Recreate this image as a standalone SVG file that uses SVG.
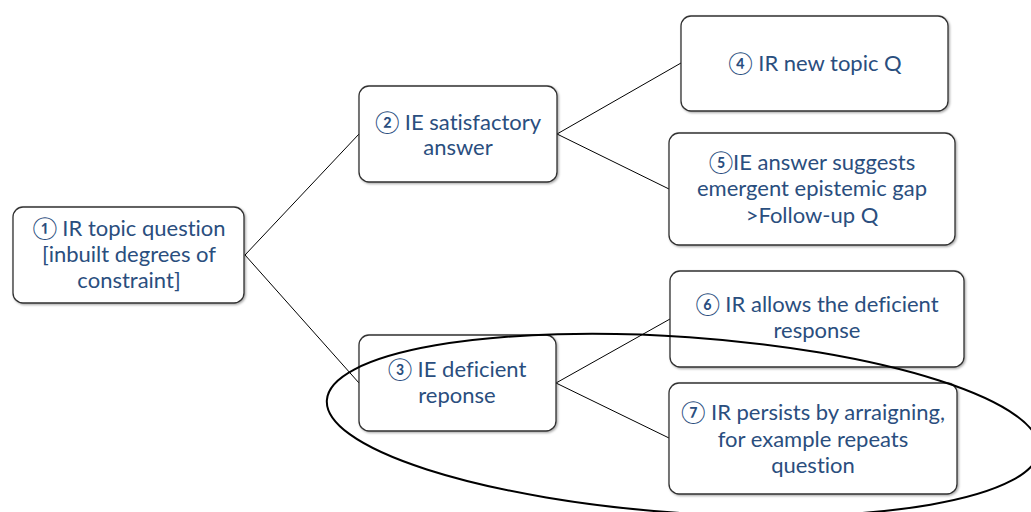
<svg xmlns="http://www.w3.org/2000/svg" width="1031" height="512" viewBox="0 0 1031 512">
<style>
.box{fill:#ffffff;stroke:#303030;stroke-width:1.3}
.lbl{font-family:Lato,"Noto Sans","DejaVu Sans",sans-serif;font-size:22px;fill:#2a4e7e;text-anchor:middle;font-variant-ligatures:none}
.conn{stroke:#000;stroke-width:1;fill:none}
.ring{stroke:#000;stroke-width:2;fill:none}
</style>
<defs>
<filter id="sh" x="-5%" y="-5%" width="110%" height="115%">
<feDropShadow dx="1.2" dy="1.2" stdDeviation="0.8" flood-color="#000" flood-opacity="0.35"/>
</filter>
</defs>
<rect width="1031" height="512" fill="#ffffff"/>
<g id="connectors">
<line class="conn" x1="245" y1="255" x2="359" y2="134"/>
<line class="conn" x1="245" y1="255" x2="359" y2="383"/>
<line class="conn" x1="557" y1="134" x2="681" y2="63"/>
<line class="conn" x1="557" y1="134" x2="669" y2="189"/>
<line class="conn" x1="556" y1="383" x2="670" y2="319"/>
<line class="conn" x1="556" y1="383" x2="669" y2="438"/>
</g>
<g id="n1">
<rect class="box" filter="url(#sh)" x="13" y="207" width="231" height="96" rx="10"/>
<text class="lbl" x="129" y="236">① IR topic question</text>
<text class="lbl" x="129" y="262">[inbuilt degrees of</text>
<text class="lbl" x="129" y="288">constraint]</text>
</g>
<g id="n2">
<rect class="box" filter="url(#sh)" x="359" y="86" width="198" height="96" rx="10"/>
<text class="lbl" x="458" y="130">② IE satisfactory</text>
<text class="lbl" x="458" y="155">answer</text>
</g>
<g id="n3">
<rect class="box" filter="url(#sh)" x="359" y="335" width="197" height="96" rx="10"/>
<text class="lbl" x="457" y="377">③ IE deficient</text>
<text class="lbl" x="457" y="403">reponse</text>
</g>
<g id="n4">
<rect class="box" filter="url(#sh)" x="681" y="16" width="267" height="95" rx="10"/>
<text class="lbl" x="815" y="71">④ IR new topic Q</text>
</g>
<g id="n5">
<rect class="box" filter="url(#sh)" x="669" y="133" width="286" height="112" rx="10"/>
<text class="lbl" x="812" y="170">⑤IE answer suggests</text>
<text class="lbl" x="812" y="196">emergent epistemic gap</text>
<text class="lbl" x="812" y="223">&gt;Follow-up Q</text>
</g>
<g id="n6">
<rect class="box" filter="url(#sh)" x="670" y="271" width="294" height="96" rx="10"/>
<text class="lbl" x="817" y="312">⑥ IR allows the deficient</text>
<text class="lbl" x="817" y="338">response</text>
</g>
<g id="n7">
<rect class="box" filter="url(#sh)" x="669" y="383" width="288" height="111" rx="10"/>
<text class="lbl" x="813" y="420">⑦ IR persists by arraigning,</text>
<text class="lbl" x="813" y="447">for example repeats</text>
<text class="lbl" x="813" y="473">question</text>
</g>
<ellipse id="ring" class="ring" cx="683" cy="425" rx="357" ry="88" transform="rotate(4 683 425)"/>
</svg>
